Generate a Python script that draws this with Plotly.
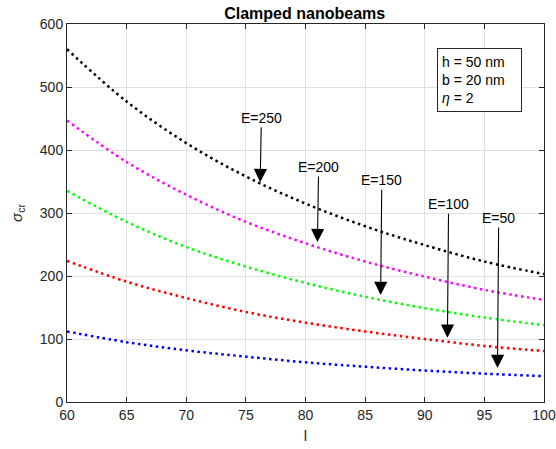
import plotly.graph_objects as go

# Data
l_vals = [60, 65, 70, 75, 80, 85, 90, 95, 100]
E_labels = ["E=250", "E=200", "E=150", "E=100", "E=50"]
sig_E250 = [560, 477, 411, 358, 315, 279, 249, 223, 203]
sig_E200 = [447, 381, 329, 286, 252, 223, 199, 178, 162]
sig_E150 = [335, 286, 246, 215, 189, 167, 149, 134, 122]
sig_E100 = [224, 191, 165, 143, 126, 112, 100, 89, 81]
sig_E50 = [112, 95, 82, 72, 63, 56, 50, 45, 41]
series = [sig_E250, sig_E200, sig_E150, sig_E100, sig_E50]
colors = ["#000000", "#ff00ff", "#00ff00", "#ff0000", "#0000ff"]

# Arrow annotations (tip in data coords, label position in data coords)
tip_x = [76.2, 81.0, 86.3, 91.9, 96.1]
tip_y = [349, 254, 170, 102, 54]
lab_x = [76.3, 81.1, 86.4, 92.0, 96.2]
lab_y = [451, 373, 352, 314, 292]

FONT = "Liberation Sans, Arial, Helvetica, sans-serif"

fig = go.Figure()
for ys, c, name in zip(series, colors, E_labels):
    fig.add_trace(go.Scatter(
        x=l_vals, y=ys, mode="lines", name=name,
        line=dict(color=c, width=2.5, dash="2.5px,3.5px", shape="spline", smoothing=1.0),
        showlegend=False, hoverinfo="skip"))

annotations = []
for t, tx, ty, lx, ly in zip(E_labels, tip_x, tip_y, lab_x, lab_y):
    annotations.append(dict(
        x=tx, y=ty, xref="x", yref="y", ax=lx, ay=ly, axref="x", ayref="y",
        text=t, showarrow=True, arrowhead=2, arrowsize=2.4, arrowwidth=1.1,
        arrowcolor="#000000", font=dict(family=FONT, size=14, color="#000000")))

annotations.append(dict(
    x=(437 - 67) / 477, y=(402 - 47.5) / 378, xref="paper", yref="paper",
    xanchor="left", yanchor="top",
    text="h = 50 nm<br>b = 20 nm<br><i>η</i> = 2", showarrow=False, align="left",
    width=75, height=54, valign="middle",
    bordercolor="#262626", borderwidth=1, borderpad=4, bgcolor="white",
    font=dict(family=FONT, size=14, color="#000000")))

axis_common = dict(
    showline=True, linecolor="#262626", linewidth=1, mirror="ticks",
    ticks="inside", ticklen=5, tickcolor="#262626", automargin=False,
    showgrid=True, gridcolor="#e0e0e0", gridwidth=1, zeroline=False,
    tickfont=dict(family=FONT, size=14, color="#262626"))

fig.update_layout(
    width=556, height=449,
    margin=dict(l=67, r=12, t=24, b=47),
    paper_bgcolor="white", plot_bgcolor="white",
    title=dict(text="<b>Clamped nanobeams</b>", x=0.548, xanchor="center",
               y=0.971, yanchor="middle",
               font=dict(family=FONT, size=16, color="#000000")),
    xaxis=dict(range=[60, 100], dtick=5, **axis_common,
               title=dict(text="l", standoff=8,
                          font=dict(family=FONT, size=15, color="#262626"))),
    yaxis=dict(range=[0, 600], dtick=100, **axis_common,
               title=dict(text="<i>σ</i><sub>cr</sub>", standoff=13,
                          font=dict(family=FONT, size=15, color="#262626"))),
    annotations=annotations,
)

fig.write_html("out.html")
